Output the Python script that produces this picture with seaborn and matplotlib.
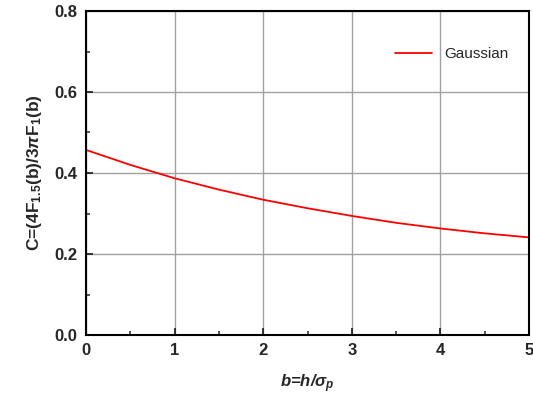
import numpy as np
import pandas as pd
import matplotlib.pyplot as plt
import seaborn as sns
from matplotlib.ticker import MultipleLocator

# values
b_values = [0.0, 0.5, 1.0, 1.5, 2.0, 2.5, 3.0, 3.5, 4.0, 4.5, 5.0]
c_values = [0.457, 0.420, 0.387, 0.359, 0.334, 0.313, 0.294, 0.277, 0.263, 0.251, 0.241]
series_name = 'Gaussian'

df = pd.DataFrame({'b': b_values, 'C': c_values, 'kind': series_name})

sns.set_style('white')
plt.rcParams['font.family'] = ['Liberation Sans', 'DejaVu Sans']
plt.rcParams['mathtext.fontset'] = 'custom'
plt.rcParams['mathtext.rm'] = 'Liberation Sans:bold'
plt.rcParams['mathtext.it'] = 'Liberation Sans:bold:italic'
plt.rcParams['mathtext.bf'] = 'Liberation Sans:bold'

fig = plt.figure(figsize=(5.33, 4.05), dpi=100)
ax = fig.add_axes([86 / 533, 1 - 335 / 405, 443 / 533, 324 / 405])

sns.lineplot(data=df, x='b', y='C', hue='kind', palette=['#ff0000'],
             linewidth=1.3, ax=ax)

ax.set_xlim(0, 5)
ax.set_ylim(0, 0.8)
ax.set_xticks([0, 1, 2, 3, 4, 5])
ax.set_xticklabels(['0', '1', '2', '3', '4', '5'])
ax.set_yticks([0.0, 0.2, 0.4, 0.6, 0.8])
ax.set_yticklabels(['0.0', '0.2', '0.4', '0.6', '0.8'])
ax.xaxis.set_minor_locator(MultipleLocator(0.5))
ax.yaxis.set_minor_locator(MultipleLocator(0.1))
ax.tick_params(which='both', bottom=True, left=True, top=False, right=False)
ax.tick_params(which='major', direction='in', length=5, width=1.3,
               labelsize=12, pad=6)
ax.tick_params(which='minor', direction='in', length=3, width=1.1)
for lab in ax.get_xticklabels() + ax.get_yticklabels():
    lab.set_fontweight('bold')

ax.grid(True, which='major', color='#a0a0a0', linewidth=1.0)
ax.set_axisbelow(True)
for s in ax.spines.values():
    s.set_linewidth(1.5)
    s.set_color('black')

ax.set_xlabel(r'$b$=$h$/$\sigma_p$', fontsize=12, fontweight='bold',
              style='italic', labelpad=10)
ax.set_ylabel(r'C=(4F$_{1.5}$(b)/3$\pi$F$_{1}$(b)', fontsize=12.5,
              fontweight='bold', labelpad=8)

leg = ax.legend(loc='upper right', frameon=False, fontsize=11,
                handlelength=2.4, bbox_to_anchor=(0.985, 0.93))

fig.savefig('out.png', dpi=100)
